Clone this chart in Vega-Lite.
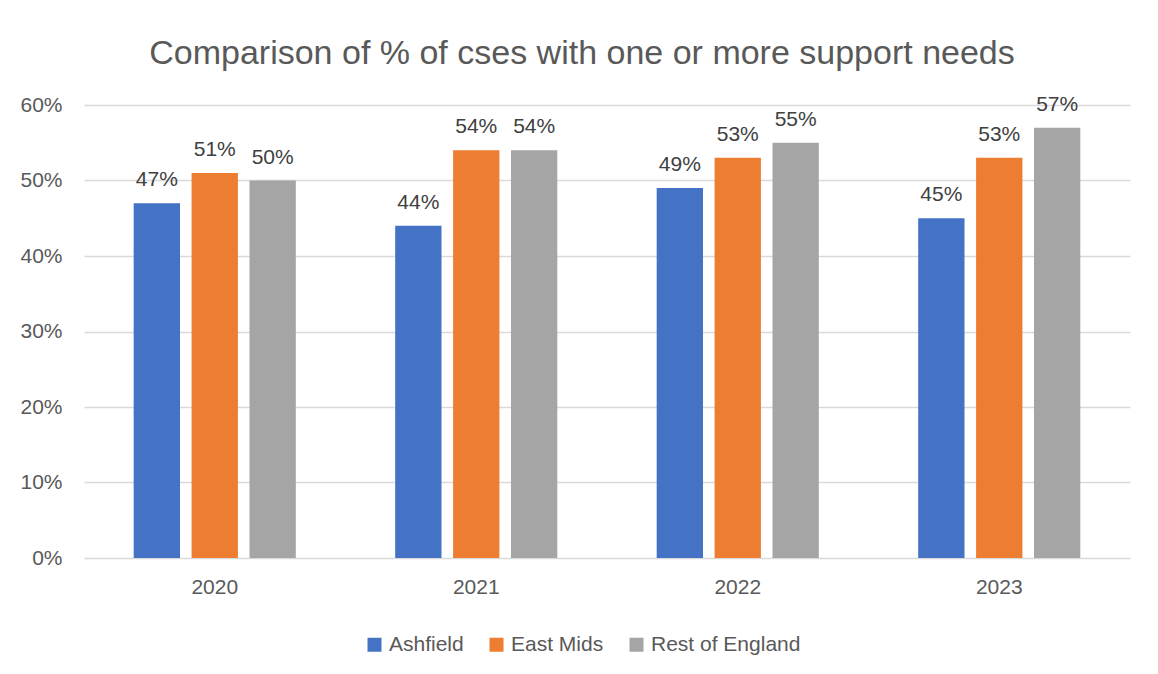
{
  "$schema": "https://vega.github.io/schema/vega-lite/v6.json",
  "width": 1046,
  "height": 453,
  "autosize": {"type": "none"},
  "padding": {"left": 84, "top": 105, "right": 28, "bottom": 116},
  "background": "white",
  "title": {
    "text": "Comparison of % of cses with one or more support needs",
    "font": "Liberation Sans",
    "fontSize": 34,
    "fontWeight": "normal",
    "color": "#595959",
    "anchor": "middle",
    "baseline": "bottom",
    "offset": -11,
    "dx": -25
  },
  "data": {
    "values": [
      {"year": "2020", "region": "Ashfield", "value": 0.47},
      {"year": "2020", "region": "East Mids", "value": 0.51},
      {"year": "2020", "region": "Rest of England", "value": 0.50},
      {"year": "2021", "region": "Ashfield", "value": 0.44},
      {"year": "2021", "region": "East Mids", "value": 0.54},
      {"year": "2021", "region": "Rest of England", "value": 0.54},
      {"year": "2022", "region": "Ashfield", "value": 0.49},
      {"year": "2022", "region": "East Mids", "value": 0.53},
      {"year": "2022", "region": "Rest of England", "value": 0.55},
      {"year": "2023", "region": "Ashfield", "value": 0.45},
      {"year": "2023", "region": "East Mids", "value": 0.53},
      {"year": "2023", "region": "Rest of England", "value": 0.57}
    ]
  },
  "encoding": {
    "x": {
      "field": "year",
      "type": "nominal",
      "scale": {"paddingInner": 0.38, "paddingOuter": 0.19},
      "axis": {
        "title": null,
        "labelAngle": 0,
        "ticks": false,
        "domain": false,
        "labelPadding": 18,
        "labelFontSize": 21,
        "labelFont": "Liberation Sans",
        "labelColor": "#595959"
      }
    },
    "xOffset": {
      "field": "region",
      "type": "nominal",
      "scale": {"paddingInner": 0.2, "paddingOuter": 0}
    },
    "y": {
      "field": "value",
      "type": "quantitative",
      "scale": {"domain": [0, 0.6]},
      "axis": {
        "title": null,
        "format": ".0%",
        "values": [0, 0.1, 0.2, 0.3, 0.4, 0.5, 0.6],
        "ticks": false,
        "domain": false,
        "grid": true,
        "gridColor": "#d9d9d9",
        "gridWidth": 1.5,
        "labelPadding": 22,
        "labelFontSize": 21,
        "labelFont": "Liberation Sans",
        "labelColor": "#595959"
      }
    }
  },
  "layer": [
    {
      "mark": {"type": "bar"},
      "encoding": {
        "color": {
          "field": "region",
          "type": "nominal",
          "scale": {
            "domain": ["Ashfield", "East Mids", "Rest of England"],
            "range": ["#4472C4", "#ED7D31", "#A5A5A5"]
          },
          "legend": {
            "title": null,
            "orient": "none",
            "direction": "horizontal",
            "legendX": 280,
            "legendY": 529,
            "symbolType": "square",
            "symbolSize": 196,
            "symbolStrokeWidth": 0,
            "labelFontSize": 21,
            "labelFont": "Liberation Sans",
            "labelColor": "#595959",
            "columnPadding": 22,
            "labelOffset": 4
          }
        }
      }
    },
    {
      "mark": {
        "type": "text",
        "baseline": "bottom",
        "dy": -13,
        "fontSize": 21,
        "font": "Liberation Sans",
        "color": "#404040"
      },
      "encoding": {
        "text": {"field": "value", "type": "quantitative", "format": ".0%"}
      }
    }
  ],
  "config": {
    "view": {"stroke": null}
  }
}
